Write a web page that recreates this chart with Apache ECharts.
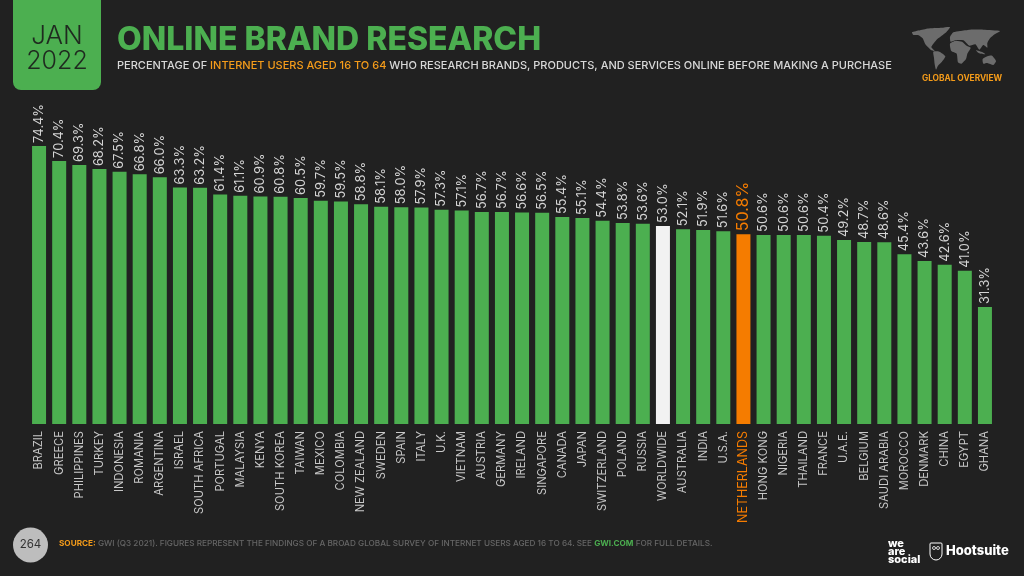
<!DOCTYPE html>
<html>
<head>
<meta charset="utf-8">
<style>
html, body { margin: 0; padding: 0; background: #212121; }
#chart { width: 1024px; height: 576px; }
</style>
<script src="https://cdn.jsdelivr.net/npm/echarts@6/dist/echarts.min.js"></script>
</head>
<body>
<div id="chart"></div>
<script>
const countries = ["BRAZIL", "GREECE", "PHILIPPINES", "TURKEY", "INDONESIA", "ROMANIA", "ARGENTINA", "ISRAEL", "SOUTH AFRICA", "PORTUGAL", "MALAYSIA", "KENYA", "SOUTH KOREA", "TAIWAN", "MEXICO", "COLOMBIA", "NEW ZEALAND", "SWEDEN", "SPAIN", "ITALY", "U.K.", "VIETNAM", "AUSTRIA", "GERMANY", "IRELAND", "SINGAPORE", "CANADA", "JAPAN", "SWITZERLAND", "POLAND", "RUSSIA", "WORLDWIDE", "AUSTRALIA", "INDIA", "U.S.A.", "NETHERLANDS", "HONG KONG", "NIGERIA", "THAILAND", "FRANCE", "U.A.E.", "BELGIUM", "SAUDI ARABIA", "MOROCCO", "DENMARK", "CHINA", "EGYPT", "GHANA"];
const values = [74.4, 70.4, 69.3, 68.2, 67.5, 66.8, 66.0, 63.3, 63.2, 61.4, 61.1, 60.9, 60.8, 60.5, 59.7, 59.5, 58.8, 58.1, 58.0, 57.9, 57.3, 57.1, 56.7, 56.7, 56.6, 56.5, 55.4, 55.1, 54.4, 53.8, 53.6, 53.0, 52.1, 51.9, 51.6, 50.8, 50.6, 50.6, 50.6, 50.4, 49.2, 48.7, 48.6, 45.4, 43.6, 42.6, 41.0, 31.3];

const GREEN = "#4caf50";
const ORANGE = "#f57c00";
const AMBER = "#f59c1a";
const FONT = "Inter";

// rough continent outlines for the little map, in the 3x crop's coordinates
const mapShapes = [
    [[36, 52], [60, 46], [90, 40], [125, 38], [150, 36], [140, 50], [125, 62], [112, 72], [102, 84], [94, 96], [104, 108], [92, 104], [76, 88], [68, 70], [54, 60], [40, 60]],
    [[100, 110], [118, 110], [136, 124], [126, 140], [114, 152], [108, 164], [104, 148], [102, 128]],
    [[150, 86], [166, 78], [186, 80], [200, 92], [212, 98], [202, 116], [198, 132], [184, 146], [174, 142], [170, 116], [154, 108]],
    [[150, 66], [160, 52], [180, 48], [210, 44], [250, 44], [300, 48], [284, 58], [270, 70], [262, 84], [262, 98], [250, 90], [238, 104], [226, 88], [208, 92], [190, 76], [166, 76], [152, 80]],
    [[248, 132], [262, 124], [276, 122], [288, 138], [280, 150], [262, 144], [250, 146]],
    [[228, 106], [248, 112], [256, 118], [236, 114]]
];

function barColor(name) {
    if (name === "WORLDWIDE") return "#f2f2f2";
    if (name === "NETHERLANDS") return ORANGE;
    return GREEN;
}

let chart = echarts.init(document.getElementById("chart"));

chart.setOption({
    backgroundColor: "#212121",
    animation: false,
    textStyle: { fontFamily: FONT },
    grid: { left: 29, width: 966, top: 125, height: 299 },
    xAxis: {
        type: "category",
        data: countries,
        axisLine: { show: false },
        axisTick: { show: false },
        axisLabel: {
            interval: 0,
            rotate: 90,
            margin: 7,
            fontSize: 11.2,
            fontFamily: FONT,
            color: "#c8c8c8",
            formatter: v => v === "NETHERLANDS" ? "{hl|" + v + "}" : v,
            rich: { hl: { color: ORANGE, fontSize: 12.5, fontFamily: FONT } }
        }
    },
    yAxis: { type: "value", min: 0, max: 80, show: false },
    series: [{
        type: "bar",
        barWidth: 14,
        data: values.map((v, i) => ({
            value: v,
            itemStyle: { color: barColor(countries[i]) },
            label: countries[i] === "NETHERLANDS"
                ? { color: ORANGE, fontSize: 16 }
                : {}
        })),
        label: {
            show: true,
            position: "top",
            rotate: 90,
            align: "left",
            verticalAlign: "middle",
            distance: 3,
            fontFamily: FONT,
            fontSize: 12.8,
            color: "#d4d4d4",
            formatter: p => p.value.toFixed(1) + "%"
        }
    }],
    graphic: [
        { type: "rect", shape: { x: 13, y: -10, width: 88, height: 100, r: 8 }, style: { fill: GREEN } },
        { type: "text", style: { x: 57, y: 36, text: "JAN", fill: "#1f2a1f", font: "300 26px " + FONT, align: "center", verticalAlign: "middle" } },
        { type: "text", style: { x: 57, y: 61, text: "2022", fill: "#1f2a1f", font: "300 25px " + FONT, align: "center", verticalAlign: "middle" } },
        { type: "text", style: { x: 117, y: 40, text: "ONLINE BRAND RESEARCH", fill: GREEN, font: "800 32px " + FONT, verticalAlign: "middle" } },
        {
            type: "text",
            style: {
                x: 117, y: 65.5,
                text: "{a|PERCENTAGE OF }{b|INTERNET USERS AGED 16 TO 64}{a| WHO RESEARCH BRANDS, PRODUCTS, AND SERVICES ONLINE BEFORE MAKING A PURCHASE}",
                verticalAlign: "middle",
                rich: {
                    a: { fill: "#d8d8d8", font: "500 11px " + FONT },
                    b: { fill: AMBER, font: "500 11px " + FONT }
                }
            }
        },
        {
            type: "group",
            x: 900,
            y: 15,
            scaleX: 1 / 3,
            scaleY: 1 / 3,
            children: mapShapes.map(pts => ({
                type: "polygon",
                shape: { points: pts, smooth: 0.2 },
                style: { fill: "#6c6c6c" }
            }))
        },
        { type: "text", style: { x: 962, y: 79, text: "GLOBAL OVERVIEW", fill: AMBER, font: "700 8.3px " + FONT, align: "center", verticalAlign: "middle" } },
        { type: "circle", shape: { cx: 30.5, cy: 545, r: 17.5 }, style: { fill: "#bdbdbd" } },
        { type: "text", style: { x: 30.5, y: 545, text: "264", fill: "#333333", font: "400 11.5px " + FONT, align: "center", verticalAlign: "middle" } },
        {
            type: "text",
            style: {
                x: 59, y: 544,
                text: "{o|SOURCE:}{g| GWI (Q3 2021). FIGURES REPRESENT THE FINDINGS OF A BROAD GLOBAL SURVEY OF INTERNET USERS AGED 16 TO 64. SEE }{n|GWI.COM}{g| FOR FULL DETAILS.}",
                verticalAlign: "middle",
                rich: {
                    o: { fill: AMBER, font: "700 8.2px " + FONT },
                    g: { fill: "#666666", font: "500 8.2px " + FONT },
                    n: { fill: GREEN, font: "700 8.2px " + FONT }
                }
            }
        },
        { type: "text", style: { x: 888, y: 552, text: "we\nare\nsocial", fill: "#ffffff", font: "800 11px " + FONT, lineHeight: 8, verticalAlign: "middle" } },
        { type: "text", style: { x: 946, y: 551, text: "Hootsuite", fill: "#ffffff", font: "800 13px " + FONT, verticalAlign: "middle" } },
        { type: "rect", shape: { x: 930, y: 543, width: 12, height: 17, r: [1, 1, 6, 6] }, style: { fill: "none", stroke: "#ffffff", lineWidth: 1 } },
        { type: "circle", shape: { cx: 934, cy: 548, r: 1.5 }, style: { fill: "none", stroke: "#ffffff", lineWidth: 0.8 } },
        { type: "circle", shape: { cx: 938, cy: 548, r: 1.5 }, style: { fill: "none", stroke: "#ffffff", lineWidth: 0.8 } }
    ]
});
</script>
</body>
</html>
